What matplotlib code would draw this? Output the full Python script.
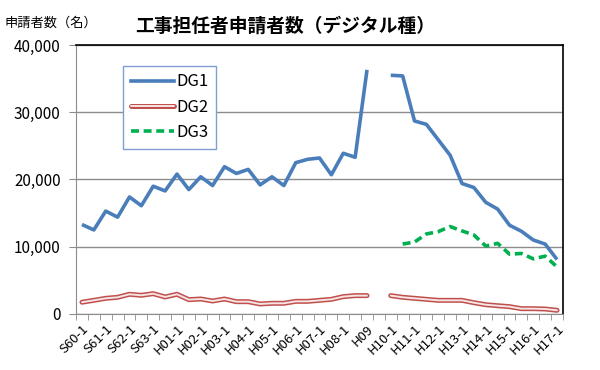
import numpy as np
import matplotlib
matplotlib.use("Agg")
import matplotlib.pyplot as plt

plt.rcParams['font.family'] = ['Noto Sans CJK JP', 'DejaVu Sans']

# exam sessions (two per year); index 25 has no data
cats = []
for y in ["S60", "S61", "S62", "S63", "H01", "H02", "H03", "H04",
          "H05", "H06", "H07", "H08"]:
    cats += [y + "-1", y + "-2"]
cats += ["H09", "H09-2"]
for y in ["H10", "H11", "H12", "H13", "H14", "H15", "H16"]:
    cats += [y + "-1", y + "-2"]
cats += ["H17-1"]

nan = np.nan
dg1 = [13300, 12500, 15300, 14400, 17400, 16100, 19000, 18300, 20800, 18500,
       20400, 19100, 21900, 20900, 21500, 19200, 20400, 19100, 22500, 23000,
       23200, 20700, 23900, 23300, 36300, nan, 35500, 35400, 28700, 28200,
       25900, 23600, 19400, 18800, 16600, 15600, 13200, 12300, 11000, 10400,
       8100]
dg2 = [1750, 2030, 2330, 2480, 2930, 2780, 3020, 2530, 2930, 2130,
       2230, 1930, 2230, 1830, 1830, 1490, 1590, 1590, 1880, 1880,
       2030, 2180, 2580, 2730, 2730, nan, 2730, 2480, 2330, 2180,
       2030, 2030, 2030, 1680, 1380, 1230, 1090, 790, 790, 740,
       550]
dg3 = [nan] * 27 + [10400, 10700, 11900, 12250, 13000, 12350, 11750, 10100,
                    10500, 8900, 9000, 8200, 8600, 7000]

x = np.arange(len(cats))

fig = plt.figure(figsize=(6, 3.7), dpi=100)
ax = fig.add_axes([0.1267, 0.1514, 0.8116, 0.727])

ax.plot(x, dg1, color="#4A7EBB", lw=2.6, solid_capstyle="butt")
l2a, = ax.plot(x, dg2, color="#C0504D", lw=3.6, solid_capstyle="round")
l2b, = ax.plot(x, dg2, color="#F7E4E4", lw=1.4, solid_capstyle="round")
ax.plot(x, dg3, color="#00B050", lw=2.6, ls=(0, (2.2, 1.3)))

ax.set_xlim(-0.5, len(cats) - 0.5)
ax.set_ylim(0, 40000)
ax.set_yticks([0, 10000, 20000, 30000, 40000])
ax.set_yticklabels(["0", "10,000", "20,000", "30,000", "40,000"], fontsize=11)
ax.yaxis.grid(True, color="#8C8C8C", lw=1)
ax.set_axisbelow(True)

ax.set_xticks(x[::2])
ax.set_xticklabels(cats[::2][:12] + ["H09"] + cats[::2][13:],
                   rotation=45, ha="right", va="top",
                   rotation_mode="anchor", fontsize=9.5)
ax.set_xticks(np.arange(-0.5, len(cats)), minor=True)
ax.tick_params(axis="x", which="major", length=0, pad=6)
ax.tick_params(axis="x", which="minor", length=4, color="#8C8C8C")
ax.tick_params(axis="y", length=5, color="#8C8C8C", pad=6)

for s in ["left", "bottom"]:
    ax.spines[s].set_color("#8C8C8C")
for s in ["top", "right"]:
    ax.spines[s].set_color("black")
    ax.spines[s].set_linewidth(1.2)

l1 = plt.Line2D([], [], color="#4A7EBB", lw=2.6)
l3 = plt.Line2D([], [], color="#00B050", lw=2.6, ls=(0, (2.2, 1.3)))
leg = ax.legend([l1, (l2a, l2b), l3], ["DG1", "DG2", "DG3"],
                loc="upper left", bbox_to_anchor=(0.0965, 0.922),
                borderaxespad=0, fontsize=12, handlelength=2.6,
                handletextpad=0.15, labelspacing=0.5, fancybox=False,
                framealpha=1, borderpad=0.45)
leg.get_frame().set_edgecolor("#7F9FCF")
leg.get_frame().set_linewidth(1)

fig.text(0.475, 0.93, "工事担任者申請者数（デジタル種）", ha="center",
         va="center", fontsize=13.5, fontweight="bold")
fig.text(0.008, 0.938, "申請者数（名）", ha="left", va="center", fontsize=9.5)

fig.savefig("out.png", dpi=100)
